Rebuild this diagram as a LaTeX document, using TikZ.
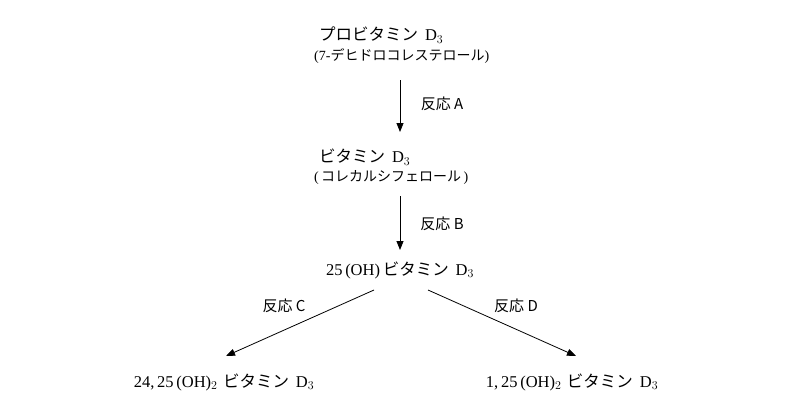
\documentclass[tikz,border=0pt]{standalone}
\usepackage{fontspec}
\setmainfont{Liberation Serif}
\newfontfamily\jp{Noto Sans CJK JP}
\usetikzlibrary{arrows.meta}
\tikzset{lbl/.style={font=\fontsize{16.5}{18}\selectfont, inner sep=0pt},
 sub/.style={font=\fontsize{14}{16}\selectfont, inner sep=0pt},
 rl/.style={font=\jp\fontsize{15}{17}\selectfont, inner sep=0pt},
 arr/.style={-{Triangle[length=9pt,width=7pt]}, line width=0.8pt}}
\begin{document}
\begin{tikzpicture}[x=1pt,y=-1pt]
\useasboundingbox (0,0) rectangle (800,418);
\node[lbl,anchor=west] (p1) at (319,35) {{\jp プロビタミン}\, D$_3$};
\node[sub,anchor=west] (p2) at (314,56) {(7-{\jp デヒドロコレステロール})};
\node[lbl,anchor=west] (v1) at (319,157) {{\jp ビタミン}\, D$_3$};
\node[sub,anchor=west] (v2) at (314,177) {(\,{\jp コレカルシフェロール}\,)};
\node[lbl] (o) at (400,270) {25\,(OH)\,{\jp ビタミン}\, D$_3$};
\node[lbl] (l) at (224,382) {24,\,25\,(OH)$_2$\,\,{\jp ビタミン}\, D$_3$};
\node[lbl] (r) at (572,382) {1,\,25\,(OH)$_2$\,\,{\jp ビタミン}\, D$_3$};
\coordinate (a1) at (400,80); \coordinate (a2) at (400,132);
\coordinate (b1) at (400,196); \coordinate (b2) at (400,250);
\coordinate (c1) at (374,290); \coordinate (c2) at (226,356);
\coordinate (d1) at (428,290); \coordinate (d2) at (576,356);
\draw[arr] (a1)--(a2); \draw[arr] (b1)--(b2);
\draw[arr] (c1)--(c2); \draw[arr] (d1)--(d2);
\node[rl] (la) at (442,104) {反応 A};
\node[rl] (lb) at (442,224) {反応 B};
\node[rl] (lc) at (284,306) {反応 C};
\node[rl] (ld) at (516,306) {反応 D};
\end{tikzpicture}
\end{document}
